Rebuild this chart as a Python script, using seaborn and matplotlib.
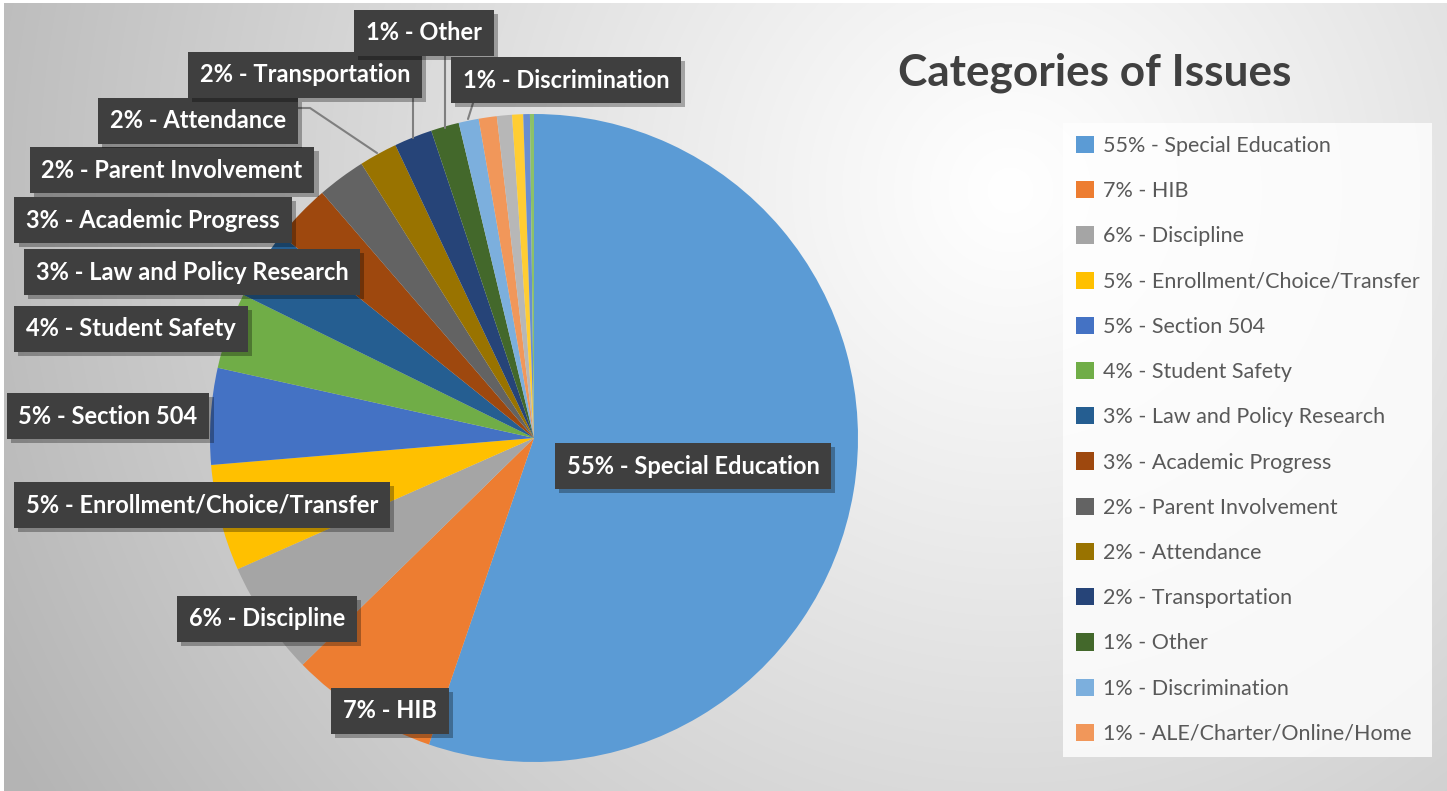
import numpy as np
import matplotlib
matplotlib.use("Agg")
import matplotlib.pyplot as plt
import matplotlib.patheffects as pe
from matplotlib.patches import Rectangle
import seaborn as sns

# Data (percent shares)
categories = ["Special Education", "HIB", "Discipline", "Enrollment/Choice/Transfer",
              "Section 504", "Student Safety", "Law and Policy Research", "Academic Progress",
              "Parent Involvement", "Attendance", "Transportation", "Other",
              "Discrimination", "ALE/Charter/Online/Home"]
shares = [55.2, 7.4, 5.7, 5.3, 4.8, 3.8, 3.47, 2.9, 2.4, 1.9, 1.9, 1.4, 1.0, 0.9]
pct_labels = ["55%", "7%", "6%", "5%", "5%", "4%", "3%", "3%", "2%", "2%", "2%", "1%", "1%", "1%"]
# small slices whose legend entries are cut off in the original
extra_shares = [0.75, 0.55, 0.33, 0.2]

colors = ["#5B9BD5", "#ED7D31", "#A5A5A5", "#FFC000", "#4472C4", "#70AD47", "#255E91",
          "#9E480E", "#636363", "#997300", "#264478", "#43682B", "#7CAFDD", "#F1975A",
          "#B7B7B7", "#FFCD33", "#698ED0", "#8CC168"]

sns.set_theme(style="white")
plt.rcParams["font.family"] = ["Lato", "DejaVu Sans"]

W, H = 1447, 791
fig = plt.figure(figsize=(W / 100, H / 100), dpi=100)
ax = fig.add_axes([0, 0, 1, 1])

# background radial gradient
yy, xx = np.mgrid[0:H, 0:W]
d = np.hypot(xx - 1010, yy - 190) / 1000.0
v = 255 - 64 * np.clip(d, 0, 1.15) ** 1.1
v = np.clip(v, 0, 255) / 255.0
ax.imshow(np.dstack([v, v, v]), extent=(0, W, 0, H), origin="upper", zorder=0, aspect="auto")
ax.add_patch(Rectangle((0, 0), 4, H, color="white", zorder=0.5, lw=0))
ax.add_patch(Rectangle((0, H - 3), W, 3, color="white", zorder=0.5, lw=0))

# pie
cx, cy, r = 534, H - 438, 324
wedges, _ = ax.pie(shares + extra_shares, colors=colors, startangle=90, counterclock=False,
                   center=(cx, cy), radius=r, wedgeprops=dict(linewidth=0),
                   frame=True)
ax.set_xlim(0, W)
ax.set_ylim(0, H)
ax.set_aspect("equal")
ax.axis("off")

# data labels: (x, y) of box centre in pixel space
label_pos = [(693, 466), (390, 711), (267, 619), (202, 505), (108, 416), (131, 329),
             (192, 272), (153, 220), (172, 170), (198, 121), (305, 75), (424, 33), (566, 80)]
shadow = [pe.SimplePatchShadow(offset=(3, -3), shadow_rgbFace="black", alpha=0.3), pe.Normal()]
for i, (lx, ly) in enumerate(label_pos):
    t = ax.text(lx, H - ly, f"{pct_labels[i]} - {categories[i]}", ha="center", va="center",
                fontsize=17, fontweight="bold", color="white", zorder=5,
                bbox=dict(boxstyle="square,pad=0.5", facecolor="#3f3f3f",
                          edgecolor="none", linewidth=0))
    t.get_bbox_patch().set_path_effects(shadow)

# leader lines
line_kw = dict(color="#7f7f7f", lw=1.5, zorder=3)
ax.plot([298, 310, 377], [H - 108, H - 108, H - 153], **line_kw)
ax.plot([413, 413], [H - 95, H - 138], **line_kw)
ax.plot([445, 445], [H - 50, H - 128], **line_kw)
ax.plot([474, 468], [H - 100, H - 119], **line_kw)

# title
ax.text(898, H - 73, "Categories of Issues", fontsize=31.8, fontweight="bold",
        color="#404040", ha="left", va="center")

# legend
leg = ax.legend(wedges[:len(categories)],
                [f"{p} - {c}" for p, c in zip(pct_labels, categories)],
                loc="upper left", bbox_to_anchor=(1063 / W, 1 - 123 / H),
                fontsize=15.5, labelcolor="#595959", frameon=True, fancybox=False,
                handlelength=0.85, handleheight=0.85, handletextpad=0.4,
                labelspacing=1.17, borderpad=0.6, borderaxespad=0)
frame = leg.get_frame()
frame.set_facecolor((1, 1, 1, 0.22))
frame.set_linewidth(0)

fig.savefig("out.png", dpi=100)
